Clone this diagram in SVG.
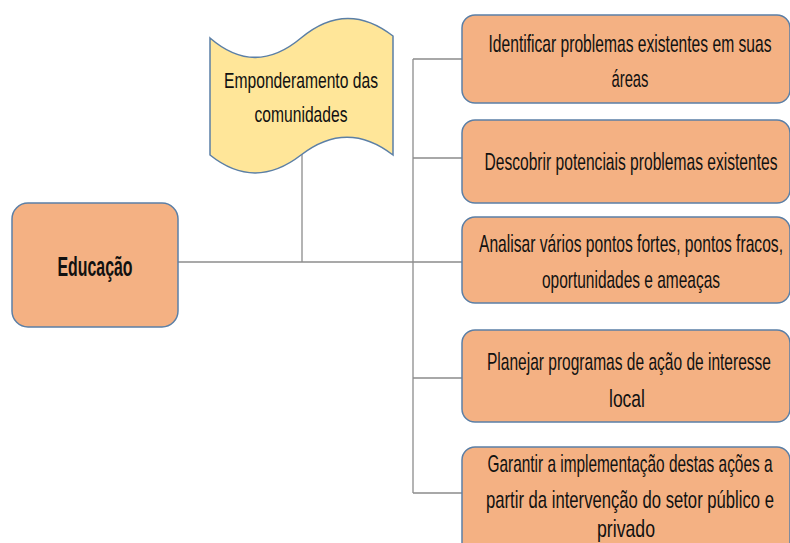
<svg xmlns="http://www.w3.org/2000/svg" width="790" height="543" viewBox="0 0 790 543">
<style>
.box{fill:#F4B183;stroke:#5B7FA6;stroke-width:1.5}
.ban{fill:#FFE699;stroke:#5B7FA6;stroke-width:1.5}
.t{font-family:"Liberation Sans",Arial,sans-serif;font-size:14px;fill:#111;text-anchor:middle}
.tb{font-family:"Liberation Sans",Arial,sans-serif;font-size:17px;font-weight:bold;fill:#111;text-anchor:middle}
.ts{font-family:"Liberation Sans",Arial,sans-serif;font-size:15px;fill:#111;text-anchor:middle}
.c{stroke:#8C8C8C;stroke-width:1.3;fill:none}
</style>
<rect width="790" height="543" fill="#fff"/>
<g id="connectors">
<path class="c" d="M178,262 H413"/>
<path class="c" d="M302,150 V262"/>
<path class="c" d="M413,59 V493"/>
<path class="c" d="M413,59 H462 M413,158 H462 M413,262 H462 M413,378 H462 M413,493 H462"/>
</g>
<g id="educacao">
<rect class="box" x="12" y="203" width="166" height="124" rx="16"/>
<g transform="scale(1,1.6)"><text class="tb" x="95" y="172.5" textLength="75" lengthAdjust="spacingAndGlyphs">Educação</text></g>
</g>
<g id="emponderamento">
<path class="ban" d="M210,38 C240,64 270,64 301,38 C332,12 362,12 393,36 V155 C362,131 332,131 301,155 C270,179 240,179 210,155 Z"/>
<g transform="scale(1,1.45)">
<text class="ts" x="301" y="60.69" textLength="154" lengthAdjust="spacingAndGlyphs">Emponderamento das</text>
<text class="ts" x="301" y="84.14" textLength="93" lengthAdjust="spacingAndGlyphs">comunidades</text>
</g>
</g>
<g id="n1">
<rect class="box" x="462" y="15" width="328" height="88" rx="13"/>
<g transform="scale(1,1.7)">
<text class="t" x="630" y="30.59" textLength="283" lengthAdjust="spacingAndGlyphs">Identificar problemas existentes em suas</text>
<text class="t" x="630" y="51.18" textLength="37" lengthAdjust="spacingAndGlyphs">áreas</text>
</g>
</g>
<g id="n2">
<rect class="box" x="462" y="120" width="328" height="83" rx="13"/>
<g transform="scale(1,1.7)">
<text class="t" x="631" y="100" textLength="293" lengthAdjust="spacingAndGlyphs">Descobrir potenciais problemas existentes</text>
</g>
</g>
<g id="n3">
<rect class="box" x="462" y="217" width="328" height="86" rx="13"/>
<g transform="scale(1,1.7)">
<text class="t" x="631" y="148.24" textLength="304" lengthAdjust="spacingAndGlyphs">Analisar vários pontos fortes, pontos fracos,</text>
<text class="t" x="631" y="169.41" textLength="178" lengthAdjust="spacingAndGlyphs">oportunidades e ameaças</text>
</g>
</g>
<g id="n4">
<rect class="box" x="462" y="330" width="328" height="92" rx="13"/>
<g transform="scale(1,1.7)">
<text class="t" x="629" y="217.65" textLength="284" lengthAdjust="spacingAndGlyphs">Planejar  programas de ação de interesse</text>
<text class="t" x="627" y="239.41" textLength="36" lengthAdjust="spacingAndGlyphs">local</text>
</g>
</g>
<g id="n5">
<rect class="box" x="462" y="447" width="328" height="120" rx="13"/>
<g transform="scale(1,1.7)">
<text class="t" x="630" y="277.65" textLength="285" lengthAdjust="spacingAndGlyphs">Garantir a implementação destas ações a</text>
<text class="t" x="630" y="298.82" textLength="288" lengthAdjust="spacingAndGlyphs">partir da intervenção do setor público e</text>
<text class="t" x="626" y="315.6" textLength="58" lengthAdjust="spacingAndGlyphs">privado</text>
</g>
</g>
</svg>
